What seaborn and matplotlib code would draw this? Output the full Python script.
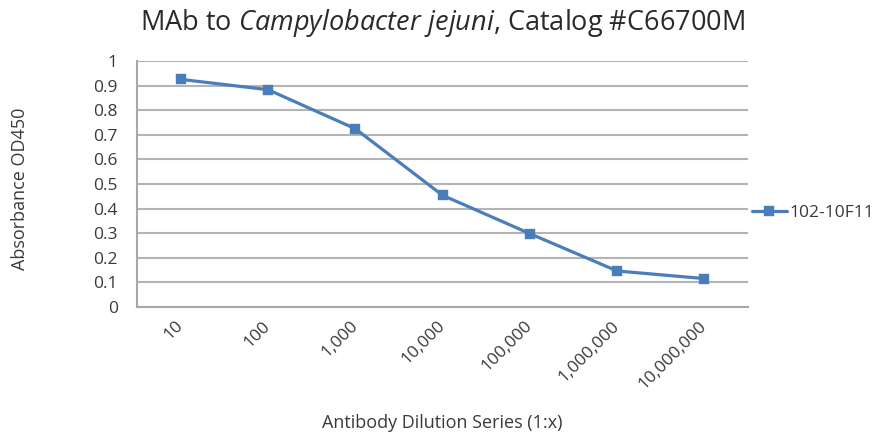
import matplotlib
matplotlib.use("Agg")
import matplotlib.pyplot as plt
import seaborn as sns
import pandas as pd
import numpy as np

sns.set_style("white")
plt.rcParams['font.family'] = ['Open Sans', 'DejaVu Sans']
plt.rcParams['mathtext.fontset'] = 'custom'
plt.rcParams['mathtext.rm'] = 'Open Sans'
plt.rcParams['mathtext.it'] = 'Open Sans:italic'

dilutions = ["10", "100", "1,000", "10,000", "100,000", "1,000,000", "10,000,000"]
absorbance = [0.926, 0.884, 0.725, 0.454, 0.298, 0.146, 0.115]
series_name = "102-10F11"

df = pd.DataFrame({"Dilution": dilutions, "OD450": absorbance})

fig = plt.figure(figsize=(8.79, 4.34), dpi=100)
ax = fig.add_axes([0.156, 0.293, 0.695, 0.566])

blue = "#4a7ebb"
text_col = "#3a3a3a"
sns.pointplot(x="Dilution", y="OD450", data=df, ax=ax, color=blue,
              markers="s", markersize=5.5, linewidth=2.3, label=series_name)

ax.set_xlim(-0.5, len(dilutions) - 0.5)
ax.set_ylim(0, 1)
ax.set_yticks(np.arange(0, 1.01, 0.1))
ax.set_yticklabels(["0"] + [f"{v:.1f}" for v in np.arange(0.1, 0.95, 0.1)] + ["1"])
ax.yaxis.grid(True, color="#b4b4b4", linewidth=1.5)
ax.set_axisbelow(True)

for s in ["top", "right"]:
    ax.spines[s].set_visible(False)
for s in ["left", "bottom"]:
    ax.spines[s].set_color("#a8a8a8")
    ax.spines[s].set_linewidth(1.5)

ax.set_xticks(np.arange(-0.5, len(dilutions), 1), minor=True)
ax.tick_params(axis="x", which="major", length=0, pad=12)
ax.tick_params(axis="x", which="minor", length=4, width=1.2, color="#a8a8a8", direction="out")
ax.tick_params(axis="y", length=6, width=1.2, color="#a8a8a8", direction="out", pad=8,
               labelsize=12.5, labelcolor=text_col)
plt.setp(ax.get_xticklabels(), rotation=45, ha="right", va="center", rotation_mode="anchor",
         fontsize=12.5, color=text_col)

ax.set_xlabel("Antibody Dilution Series (1:x)", fontsize=13, color=text_col)
ax.xaxis.set_label_coords(0.5, -0.435)
ax.set_ylabel("Absorbance OD450", fontsize=13, color=text_col)
ax.yaxis.set_label_coords(-0.177, 0.482)
ax.set_title(r"MAb to $\it{Campylobacter\ jejuni}$, Catalog #C66700M",
             fontsize=19.5, color="#2a2a2a", y=1.126, pad=0)

ax.legend(loc="center left", bbox_to_anchor=(0.995, 0.382), frameon=False,
          fontsize=12.5, handlelength=2.0, handletextpad=0.15, borderaxespad=0,
          labelcolor=text_col)

fig.savefig("out.png", dpi=100)
